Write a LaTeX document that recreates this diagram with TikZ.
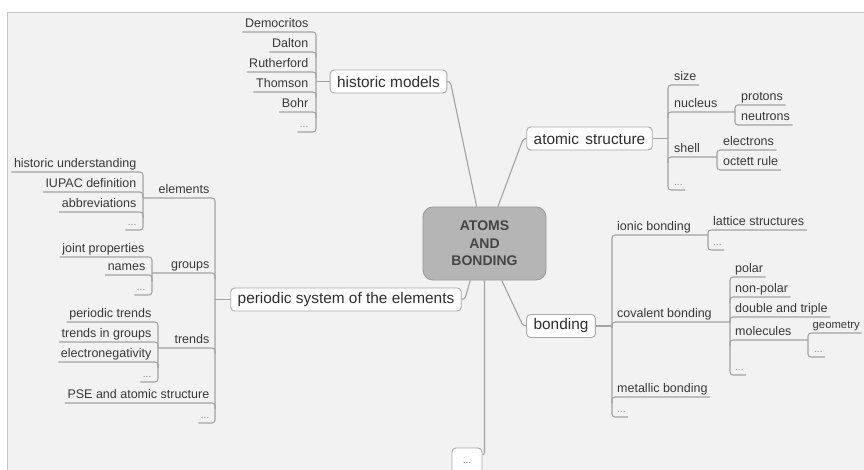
\documentclass[tikz,border=0pt]{standalone}
\usepackage{fontspec}
\setmainfont{Liberation Sans}
\definecolor{bgc}{HTML}{F2F2F2}
\definecolor{framec}{HTML}{C4C4C4}
\definecolor{lineg}{HTML}{A3A3A3}
\definecolor{boxg}{HTML}{A8A8A8}
\definecolor{txt}{HTML}{383838}
\definecolor{txttwo}{HTML}{2E2E2E}
\definecolor{dotc}{HTML}{8C8C8C}
\definecolor{coref}{HTML}{B5B5B5}
\definecolor{coreb}{HTML}{999999}
\definecolor{coret}{HTML}{454545}
\begin{document}
\begin{tikzpicture}[x=1pt,y=-1pt,
  ln/.style={draw=lineg, line width=1.1pt, rounded corners=3pt},
  leaf/.style={font=\fontsize{12.5}{14}\selectfont, text=txt, inner xsep=2.5pt, inner ysep=0pt, text height=9pt, text depth=4pt},
  dots/.style={leaf, font=\fontsize{10}{12}\selectfont, text=dotc},
  branch/.style={draw=boxg, line width=0.9pt, fill=white, rounded corners=4pt, font=\fontsize{15.4}{18}\selectfont, text=txttwo, inner xsep=7pt, inner ysep=0pt, minimum height=23pt},
  core/.style={draw=coreb, line width=0.9pt, fill=coref, rounded corners=10pt, minimum width=123pt, minimum height=73pt, align=center, text=coret, font=\bfseries\fontsize{14}{17.5}\selectfont}
]
\useasboundingbox (0,0) rectangle (864,470);
\clip (0,0) rectangle (864,470);
\fill[white] (0,0) rectangle (864,470);
\fill[bgc] (7,13) rectangle (864,470);
\draw[framec, line width=1pt] (864,13) -- (7,13) -- (7,470);

% centre
\node[core] (ab) at (484.5,243.5) {ATOMS\\AND\\BONDING};

% main branches
\node[branch] (hm) at (388.5,81.5) {historic models};
\node[branch] (as) at (589.5,138.5) {atomic\hspace{2pt} structure};
\node[branch] (pse) at (346,299.5) {periodic system of the elements};
\node[branch] (bd) at (561,326) {bonding};
\node[branch, minimum width=30pt, minimum height=30pt, inner xsep=2pt, font=\fontsize{10}{12}\selectfont, text=dotc] (bdots) at (467,463) {...};

\draw[ln] (hm.east) -- ++(3,0) -- (ab.102);
\draw[ln] (as.west) -- ++(-3,0) -- (ab.70);
\draw[ln] (pse.east) -- ++(3,0) -- (ab.249);
\draw[ln] (bd.west) -- ++(-3,0) -- (ab.295);
\draw[ln, rounded corners=2pt] (ab.south) |- ([yshift=-7pt]bdots.north east);

% ---------- historic models ----------
\coordinate (hmB) at (316,82);
\node[leaf, anchor=south east] (dem) at (311,32) {Democritos};
\node[leaf, anchor=south east] (dal) at (311,52) {Dalton};
\node[leaf, anchor=south east] (ruth) at (311,72) {Rutherford};
\node[leaf, anchor=south east] (thom) at (311,92) {Thomson};
\node[leaf, anchor=south east] (bohr) at (311,112) {Bohr};
\node[dots, anchor=south east] (hmd) at (311,132) {...};
\draw[ln] (dem.south west) -- (dem.south -| hmB) -- (hmd.south -| hmB) -- (hmd.south west);
\foreach \n in {dal,ruth,thom,bohr} \draw[ln] (\n.south west) -- (\n.south -| hmB) -- ++(0,6);
\draw[ln] (hm.west) -- (hm.west -| hmB);

% ---------- atomic structure ----------
\coordinate (asB) at (668,138);
\coordinate (nucB) at (735,112);
\coordinate (shB) at (717,157);
\node[leaf, anchor=south west] (size) at (671.5,85) {size};
\node[leaf, anchor=south west] (nuc) at (671.5,112) {nucleus};
\node[leaf, anchor=south west] (sh) at (671.5,157) {shell};
\node[dots, anchor=south west] (asd) at (671.5,190) {...};
\draw[ln] (size.south east) -- (size.south -| asB) -- (asd.south -| asB) -- (asd.south east);
\draw[ln] (nuc.south -| asB) ++(0,6) |- (nuc.south -| nucB);
\draw[ln] (sh.south -| asB) ++(0,6) |- (sh.south -| shB);
\draw[ln] (as.east) -- (as.east -| asB);
\node[leaf, anchor=south west] (pro) at (738.5,105) {protons};
\node[leaf, anchor=south west] (neu) at (738.5,125) {neutrons};
\draw[ln] (pro.south east) -- (pro.south -| nucB) -- (neu.south -| nucB) -- (neu.south east);
\node[leaf, anchor=south west] (ele) at (720.5,150) {electrons};
\node[leaf, anchor=south west] (oct) at (720.5,170) {octett rule};
\draw[ln] (ele.south east) -- (ele.south -| shB) -- (oct.south -| shB) -- (oct.south east);

% ---------- periodic system ----------
\coordinate (pseB) at (215,300);
\coordinate (elB) at (143,198);
\coordinate (grB) at (152,273);
\coordinate (trB) at (158,348);
\node[leaf, anchor=south east] (el) at (212,198) {elements};
\node[leaf, anchor=south east] (gr) at (212,273) {groups};
\node[leaf, anchor=south east] (tr) at (212,348) {trends};
\node[leaf, anchor=south east] (pas) at (212,403) {PSE and atomic structure};
\node[dots, anchor=south east] (psd) at (212,423) {...};
\draw[ln] (el.south -| elB) -- (el.south -| pseB) -- (psd.south -| pseB) -- (psd.south west);
\draw[ln] (gr.south -| grB) -- (gr.south -| pseB) -- ++(0,6);
\draw[ln] (tr.south -| trB) -- (tr.south -| pseB) -- ++(0,6);
\draw[ln] (pas.south west) -- (pas.south -| pseB) -- ++(0,6);
\draw[ln] (pse.west) -- (pse.west -| pseB);

\node[leaf, anchor=south east] (hu) at (139,172) {historic understanding};
\node[leaf, anchor=south east] (iu) at (139,192) {IUPAC definition};
\node[leaf, anchor=south east] (abv) at (139,212) {abbreviations};
\node[dots, anchor=south east] (eld) at (139,230) {...};
\draw[ln] (hu.south west) -- (hu.south -| elB) -- (eld.south -| elB) -- (eld.south west);
\foreach \n in {iu,abv} \draw[ln] (\n.south west) -- (\n.south -| elB) -- ++(0,6);

\node[leaf, anchor=south east] (jp) at (147,257) {joint properties};
\node[leaf, anchor=south east] (nm) at (148,275) {names};
\node[dots, anchor=south east] (grd) at (148,295) {...};
\draw[ln] (jp.south west) -- (jp.south -| grB) -- (grd.south -| grB) -- (grd.south west);
\draw[ln] (nm.south west) -- (nm.south -| grB) -- ++(0,6);

\node[leaf, anchor=south east] (pt) at (154,322) {periodic trends};
\node[leaf, anchor=south east] (tg) at (154,342) {trends in groups};
\node[leaf, anchor=south east] (en) at (154,362) {electronegativity};
\node[dots, anchor=south east] (trd) at (154,382) {...};
\draw[ln] (pt.south west) -- (pt.south -| trB) -- (trd.south -| trB) -- (trd.south west);
\foreach \n in {tg,en} \draw[ln] (\n.south west) -- (\n.south -| trB) -- ++(0,6);

% ---------- bonding ----------
\coordinate (bdB) at (612,326);
\coordinate (ionB) at (708,235);
\coordinate (covB) at (730,322);
\coordinate (molB) at (808,340);
\node[leaf, anchor=south west] (ion) at (614.5,235) {ionic bonding};
\node[leaf, anchor=south west] (cov) at (614.5,322) {covalent bonding};
\node[leaf, anchor=south west] (met) at (614.5,397) {metallic bonding};
\node[dots, anchor=south west] (bdd) at (614.5,417) {...};
\draw[ln] (ion.south -| ionB) -- (ion.south -| bdB) -- (bdd.south -| bdB) -- (bdd.south east);
\draw[ln] (cov.south -| bdB) ++(0,6) |- (cov.south -| covB);
\draw[ln] (met.south -| bdB) ++(0,6) |- (met.south east);
\draw[ln] (bd.east) -- (bd.east -| bdB);

\node[leaf, anchor=south west] (lat) at (710.5,230) {lattice structures};
\node[dots, anchor=south west] (ild) at (710.5,250) {...};
\draw[ln] (lat.south east) -- (lat.south -| ionB) -- (ild.south -| ionB) -- (ild.south east);

\node[leaf, anchor=south west] (pol) at (732.5,277) {polar};
\node[leaf, anchor=south west] (npol) at (732.5,297) {non-polar};
\node[leaf, anchor=south west] (dbl) at (732.5,317) {double and triple};
\node[leaf, anchor=south west] (mol) at (732.5,340) {molecules};
\node[dots, anchor=south west] (cod) at (732.5,375) {...};
\draw[ln] (pol.south east) -- (pol.south -| covB) -- (cod.south -| covB) -- (cod.south east);
\foreach \n in {npol,dbl} \draw[ln] (\n.south -| covB) ++(0,6) |- (\n.south east);
\draw[ln] (mol.south -| covB) ++(0,6) |- (mol.south -| molB);

\node[leaf, anchor=south west, font=\fontsize{11.3}{13}\selectfont, inner xsep=1.5pt] (geo) at (811,333) {geometry};
\node[dots, anchor=south west] (mod) at (811.5,357) {...};
\draw[ln] (geo.south east) -- (geo.south -| molB) -- (mod.south -| molB) -- (mod.south east);
\end{tikzpicture}
\end{document}
